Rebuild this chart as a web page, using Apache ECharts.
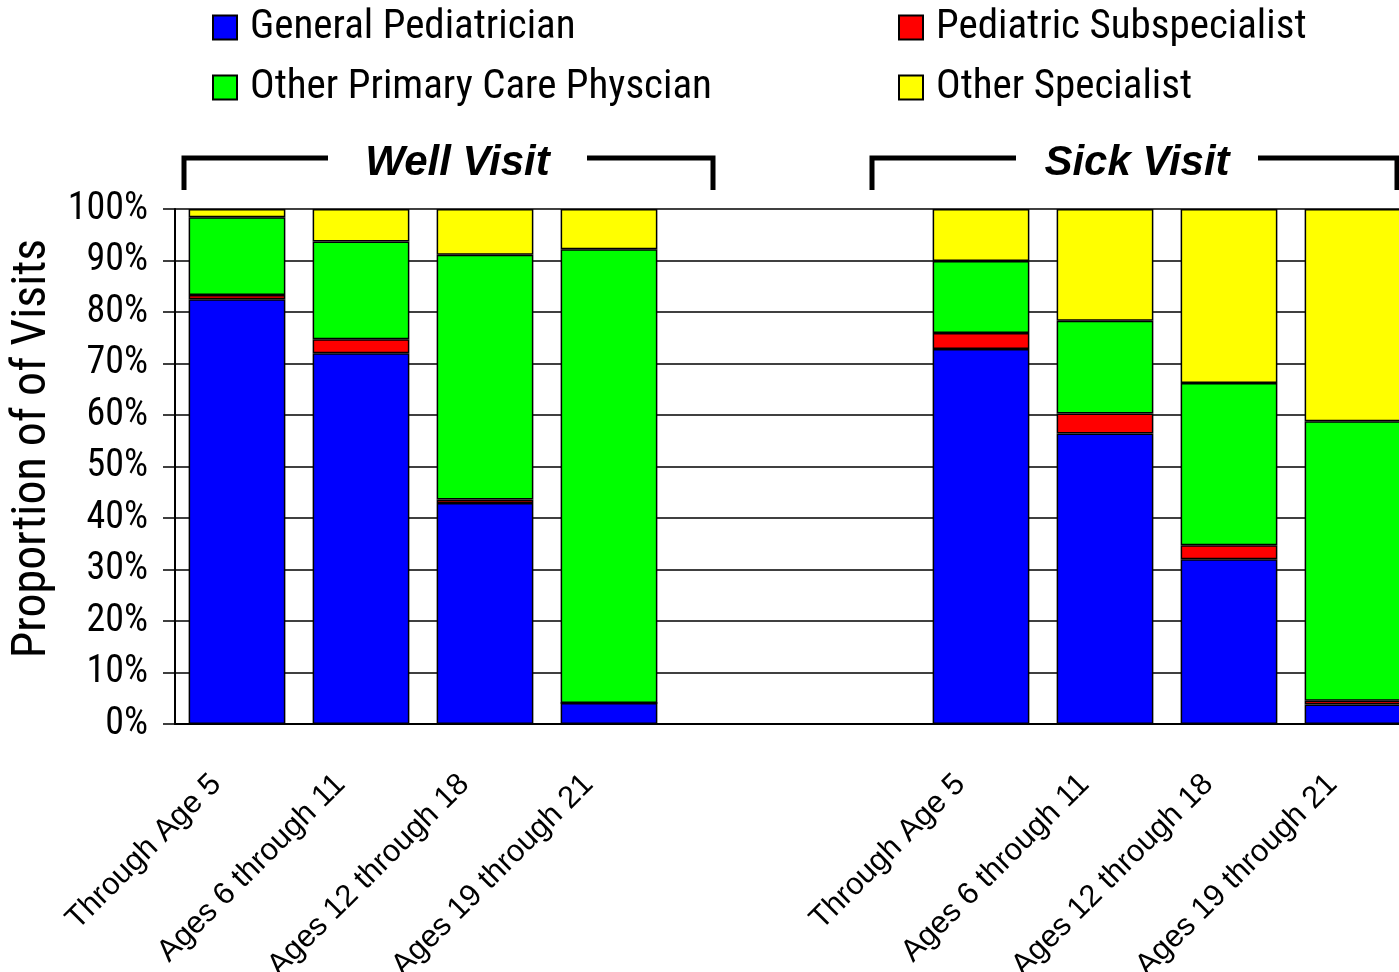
<!DOCTYPE html>
<html>
<head>
<meta charset="utf-8">
<title>Proportion of Visits</title>
<script src="https://cdn.jsdelivr.net/npm/echarts@6/dist/echarts.min.js"></script>
<style>
  html, body { margin: 0; padding: 0; background: #fff; }
  #visits { width: 1399px; height: 972px; }
</style>
</head>
<body>
<div id="visits"></div>
<script>
// two blank slots separate the Well Visit and Sick Visit groups
var categories = [
    'Through Age 5', 'Ages 6 through 11', 'Ages 12 through 18', 'Ages 19 through 21',
    '', '',
    'Through Age 5', 'Ages 6 through 11', 'Ages 12 through 18', 'Ages 19 through 21'
];
var generalPed   = [82.5, 72.0, 42.9, 4.1, '-', '-', 72.8, 56.4, 32.0, 3.8];
var pedSubspec   = [0.8, 2.7, 0.7, 0, '-', '-', 3.1, 3.9, 2.7, 0.7];
var otherPrimary = [15.1, 19.0, 47.5, 88.1, '-', '-', 14.0, 18.0, 31.5, 54.3];
var otherSpec    = [1.6, 6.3, 8.9, 7.8, '-', '-', 10.1, 21.7, 33.8, 41.2];
var yTicks = [0, 10, 20, 30, 40, 50, 60, 70, 80, 90, 100];

// narrow face, like Arial Narrow in the original
var narrow = "'Liberation Sans Narrow', 'Roboto Condensed', 'DejaVu Sans Condensed', 'Noto Sans', sans-serif";
var narrowWeight = 'normal condensed';
var chart = echarts.init(document.getElementById('visits'));

function barSeries(name, data, color) {
    return {
        name: name,
        type: 'bar',
        stack: 'visits',
        barCategoryGap: '22%',
        itemStyle: { color: color, borderColor: '#000', borderWidth: 1.5 },
        emphasis: { disabled: true },
        data: data
    };
}

function bracket(x1, x2, gapL, gapR, label) {
    return [{
        type: 'polyline',
        shape: { points: [[x1, 190], [x1, 158], [gapL, 158]] },
        style: { stroke: '#000', lineWidth: 5, fill: null }
    }, {
        type: 'polyline',
        shape: { points: [[gapR, 158], [x2, 158], [x2, 190]] },
        style: { stroke: '#000', lineWidth: 5, fill: null }
    }, {
        type: 'text',
        x: (gapL + gapR) / 2,
        y: 163,
        style: {
            text: label,
            fill: '#000',
            font: 'italic bold 42px "Liberation Sans", Arial, sans-serif',
            textAlign: 'center',
            textVerticalAlign: 'middle'
        }
    }];
}

var legendText = {
    fontFamily: narrow, fontWeight: narrowWeight, fontSize: 41,
    color: '#000', padding: [0, 0, 0, 8]
};

var option = {
    animation: false,
    backgroundColor: '#fff',
    legend: [{
        data: ['General Pediatrician', 'Other Primary Care Physcian'],
        orient: 'vertical',
        left: 207,
        top: 2,
        itemWidth: 24,
        itemHeight: 24,
        itemGap: 19,
        icon: 'rect',
        selectedMode: false,
        textStyle: legendText
    }, {
        data: ['Pediatric Subspecialist', 'Other Specialist'],
        orient: 'vertical',
        left: 893,
        top: 2,
        itemWidth: 24,
        itemHeight: 24,
        itemGap: 19,
        icon: 'rect',
        selectedMode: false,
        textStyle: legendText
    }],
    grid: {
        left: 175, right: -16, top: 209, bottom: 248,
        containLabel: false, outerBoundsMode: 'none'
    },
    xAxis: {
        type: 'category',
        data: categories,
        axisLine: { lineStyle: { color: '#000', width: 2 } },
        axisTick: { length: 11, lineStyle: { color: '#000', width: 1.5 } },
        axisLabel: {
            interval: 0,
            rotate: 45,
            margin: 35,
            padding: [0, 29, 0, 0],
            fontFamily: "'Liberation Sans', Arial, sans-serif",
            fontSize: 31,
            color: '#000'
        }
    },
    yAxis: {
        type: 'value',
        min: yTicks[0],
        max: yTicks[yTicks.length - 1],
        interval: 10,
        name: 'Proportion of of Visits',
        nameLocation: 'middle',
        nameRotate: 90,
        nameGap: 107,
        nameTextStyle: {
            fontFamily: narrow, fontWeight: narrowWeight, fontSize: 48, color: '#000',
            padding: [0, 0, 0, 36]
        },
        axisLine: { show: true, lineStyle: { color: '#000', width: 2 } },
        axisTick: { show: true, length: 12, lineStyle: { color: '#000', width: 1.5 } },
        axisLabel: {
            margin: 27,
            fontFamily: narrow,
            fontWeight: narrowWeight,
            fontSize: 38,
            color: '#000',
            formatter: '{value}%'
        },
        splitLine: { lineStyle: { color: '#000', width: 1.5 } }
    },
    graphic: bracket(184, 713, 328, 587, 'Well Visit').concat(
             bracket(872, 1397, 1016, 1258, 'Sick Visit')),
    series: [
        barSeries('General Pediatrician', generalPed, '#0000ff'),
        barSeries('Pediatric Subspecialist', pedSubspec, '#ff0000'),
        barSeries('Other Primary Care Physcian', otherPrimary, '#00ff00'),
        barSeries('Other Specialist', otherSpec, '#ffff00')
    ]
};

if (option && typeof option === "object") {
    chart.setOption(option, true);
}
window.addEventListener('resize', function () {
    chart.resize();
});
</script>
</body>
</html>
